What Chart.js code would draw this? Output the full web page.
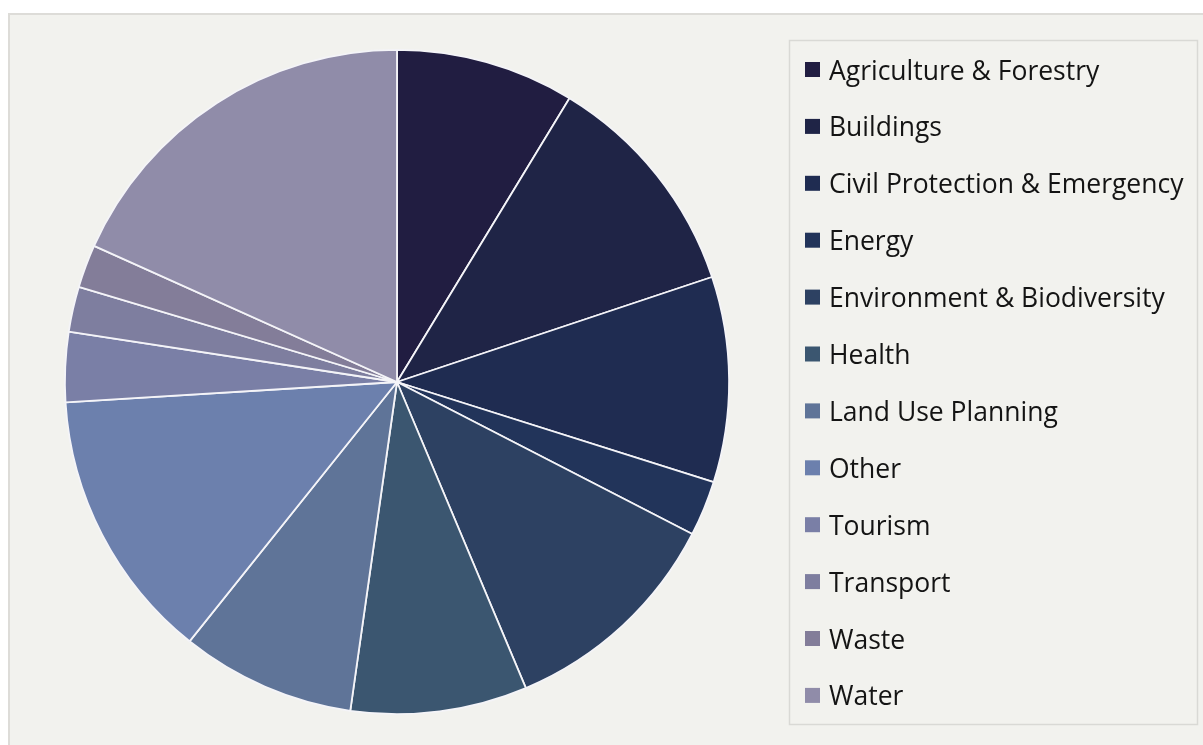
<!DOCTYPE html>
<html>
<head>
<meta charset="utf-8">
<script src="https://cdn.jsdelivr.net/npm/chart.js@4"></script>
<style>
  body { margin: 0; background: #ffffff; }
  #frame { position: absolute; left: 8px; top: 13px; width: 1200px; height: 740px;
           background: #f2f2ee; border-left: 2px solid #dddcd8; border-top: 2px solid #dddcd8; }
  #myChart { position: absolute; left: 0; top: 0; }
</style>
</head>
<body>
<div id="frame"></div>
<canvas id="myChart" width="1203" height="745"></canvas>
<script>
// sectors, clockwise from 12 o'clock
const sectors = ['Agriculture & Forestry', 'Buildings', 'Civil Protection & Emergency', 'Energy',
  'Environment & Biodiversity', 'Health', 'Land Use Planning', 'Other', 'Tourism', 'Transport',
  'Waste', 'Water'];
// share of projects, %
const shares = [8.7, 11.2, 10.0, 2.7, 11.1, 8.6, 8.5, 13.3, 3.4, 2.2, 2.1, 18.3];
const sliceColors = ['#211d41', '#1f2446', '#1f2c51', '#22345a', '#2d4162', '#3b5670',
  '#5f7498', '#6c80ad', '#7a7fa6', '#7e7e9f', '#837d99', '#908ca9'];

// legend drawn in a box on the right like the original
const boxLegend = {
  id: 'boxLegend',
  afterDraw(chart) {
    const c = chart.ctx;
    c.save();
    c.strokeStyle = '#d9d9d5';
    c.lineWidth = 1.5;
    c.strokeRect(789.5, 40.5, 408, 684);
    c.font = '26.5px "Open Sans"';
    c.textBaseline = 'alphabetic';
    chart.data.labels.forEach((lab, i) => {
      const y = 62 + i * 56.9;
      c.fillStyle = chart.data.datasets[0].backgroundColor[i];
      c.fillRect(805, y, 15, 15);
      c.fillStyle = '#141414';
      c.fillText(lab, 829, y + 17.5);
    });
    c.restore();
  }
};

const ctx = document.getElementById('myChart');
new Chart(ctx, {
  type: 'pie',
  data: {
    labels: sectors,
    datasets: [{
      data: shares,
      backgroundColor: sliceColors,
      borderColor: '#f4f4f8',
      borderWidth: 1.8,
      hoverOffset: 0
    }]
  },
  options: {
    responsive: false,
    animation: false,
    layout: { padding: { left: 64, right: 473, top: 49, bottom: 30 } },
    plugins: {
      legend: { display: false },
      tooltip: { enabled: false }
    }
  },
  plugins: [boxLegend]
});
</script>
</body>
</html>
